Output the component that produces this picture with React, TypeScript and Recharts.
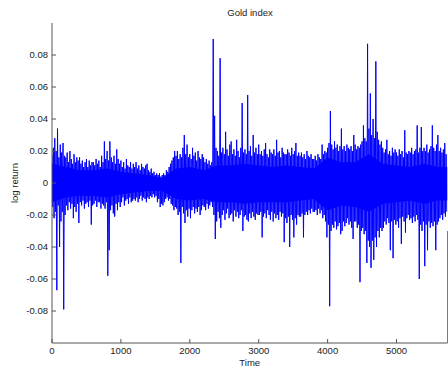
import React from 'react';
import { ComposedChart, Area, Line, XAxis, YAxis, ReferenceLine } from 'recharts';

// ---- axis ticks ----
const xTicks = [0, 1000, 2000, 3000, 4000, 5000];
const yTicks = [-0.08, -0.06, -0.04, -0.02, 0, 0.02, 0.04, 0.06, 0.08];
const xMax = 5740;

// ---- dense core band of the return series (per-mille), read at these times ----
const coreTimes = [0, 200, 400, 600, 800, 1000, 1200, 1400, 1600, 1800, 2000, 2200, 2400, 2600, 2800, 3000, 3200, 3400, 3600, 3800, 4000, 4200, 4400, 4600, 4800, 5000, 5200, 5400, 5600, 5740];
const coreHi = [12, 10, 8, 8, 9, 7, 6, 5, 3, 9, 10, 8, 11, 11, 12, 11, 10, 11, 10, 9, 16, 13, 13, 18, 12, 11, 10, 12, 10, 10];
const coreLo = [-12, -9, -8, -8, -9, -7, -6, -5, -5, -10, -11, -10, -12, -12, -13, -12, -12, -12, -11, -10, -17, -14, -15, -18, -13, -12, -11, -13, -11, -11];

// ---- extremes of the series in consecutive 20-step windows (per-mille) ----
const windowSize = 20;
const peakHi = [
  18, 22, 28, 20, 34, 16, 24, 19, 25, 17,
  16, 19, 13, 20, 15, 12, 18, 13, 16, 14,
  16, 12, 14, 10, 13, 15, 10, 14, 11, 13,
  13, 11, 15, 12, 14, 10, 17, 13, 26, 15,
  20, 14, 26, 16, 13, 17, 12, 21, 15, 12,
  14, 10, 13, 9, 15, 11, 10, 13, 9, 12,
  10, 13, 9, 11, 8, 12, 10, 9, 11, 12,
  8, 7, 9, 6, 7, 5, 6, 5, 6, 4,
  5, 6, 5, 8, 7, 10, 12, 14, 16, 20,
  17, 20, 15, 18, 16, 22, 30, 18, 24, 16,
  18, 15, 22, 17, 19, 14, 20, 16, 15, 18,
  16, 13, 15, 12, 14, 11, 13, 90, 42, 22,
  20, 17, 78, 19, 22, 18, 32, 21, 17, 24,
  26, 18, 21, 17, 27, 20, 16, 22, 50, 19,
  21, 18, 55, 20, 23, 17, 30, 19, 22, 18,
  24, 18, 20, 17, 21, 25, 18, 16, 21, 19,
  18, 21, 17, 27, 19, 20, 16, 22, 19, 18,
  18, 21, 19, 17, 22, 18, 20, 25, 17, 19,
  17, 19, 16, 18, 15, 20, 17, 16, 18, 15,
  15, 17, 14, 18, 16, 15, 24, 18, 20, 19,
  22, 25, 45, 24, 21, 26, 22, 24, 20, 23,
  34, 21, 23, 20, 24, 22, 21, 23, 20, 30,
  24, 21, 23, 22, 24, 26, 36, 28, 26, 87,
  34, 56, 30, 40, 28, 76, 32, 27, 24, 26,
  22, 19, 21, 27, 18, 20, 17, 22, 19, 21,
  19, 17, 21, 18, 20, 16, 33, 19, 18, 20,
  19, 22, 18, 20, 21, 36, 19, 22, 35, 20,
  22, 20, 24, 19, 21, 23, 36, 22, 20, 24,
  30, 20, 22, 19, 21, 25, 18,
];
const peakLo = [
  -15, -22, -18, -67, -14, -40, -24, -18, -79, -20,
  -14, -17, -12, -16, -13, -22, -15, -18, -13, -25,
  -12, -14, -11, -16, -13, -12, -15, -11, -26, -14,
  -13, -11, -15, -12, -12, -16, -13, -14, -16, -12,
  -58, -42, -17, -14, -19, -21, -13, -17, -12, -15,
  -12, -9, -14, -11, -10, -13, -9, -12, -11, -10,
  -11, -9, -12, -10, -8, -11, -9, -10, -12, -9,
  -10, -8, -9, -7, -9, -8, -12, -10, -15, -13,
  -14, -12, -10, -9, -11, -10, -13, -14, -17, -15,
  -16, -20, -18, -50, -15, -19, -25, -17, -21, -16,
  -22, -17, -15, -19, -16, -18, -15, -20, -17, -14,
  -15, -17, -13, -16, -14, -12, -15, -20, -35, -24,
  -18, -22, -28, -20, -17, -23, -19, -16, -22, -20,
  -19, -24, -17, -21, -18, -22, -20, -17, -30, -21,
  -20, -23, -24, -19, -22, -18, -21, -23, -19, -20,
  -20, -18, -34, -21, -19, -22, -17, -20, -23, -18,
  -24, -19, -22, -20, -23, -18, -21, -19, -37, -22,
  -25, -21, -40, -20, -23, -34, -22, -26, -20, -21,
  -21, -19, -34, -20, -18, -20, -17, -19, -16, -18,
  -18, -17, -20, -16, -19, -17, -22, -20, -24, -34,
  -26, -77, -30, -26, -28, -24, -29, -27, -25, -32,
  -30, -24, -27, -25, -22, -26, -24, -28, -35, -24,
  -24, -28, -26, -62, -30, -28, -32, -30, -50, -36,
  -40, -53, -36, -48, -34, -40, -30, -34, -28, -30,
  -28, -24, -26, -22, -25, -42, -24, -47, -23, -26,
  -24, -28, -22, -38, -21, -24, -31, -22, -20, -23,
  -22, -25, -21, -24, -20, -23, -60, -26, -30, -24,
  -52, -26, -42, -24, -28, -25, -27, -24, -42, -26,
  -24, -22, -20, -23, -19, -21, -18,
];

const coreData = coreTimes.map((t, i) => ({ t, band: [coreLo[i] / 1000, coreHi[i] / 1000] }));
const lineData: { t: number; v: number }[] = [];
peakHi.forEach((hi, k) => {
  lineData.push({ t: k * windowSize, v: hi / 1000 });
  lineData.push({ t: k * windowSize + windowSize / 2, v: peakLo[k] / 1000 });
});

const FONT = '"Liberation Sans", Arial, Helvetica, sans-serif';
const AXIS = '#555555';
const TXT = '#222222';

const fmtY = (v: number) => (Math.abs(v) < 1e-9 ? '0' : v.toFixed(2));

export default function App() {
  return (
    <div style={{ position: 'fixed', left: 0, top: 0, width: 448, height: 372, background: '#fff' }}>
      <div
        style={{
          position: 'absolute', left: 52, width: 396, top: 7, textAlign: 'center',
          fontFamily: FONT, fontSize: 9.5, lineHeight: '11px', color: TXT,
        }}
      >
        Gold index
      </div>
      <ComposedChart width={448} height={372} margin={{ top: 23, right: 0.5, bottom: 0, left: 0 }}>
        <XAxis
          type="number"
          dataKey="t"
          domain={[0, xMax]}
          allowDataOverflow
          ticks={xTicks}
          interval={0}
          height={29}
          stroke={AXIS}
          tickSize={-4}
          tickMargin={8}
          tick={{ fill: TXT, fontSize: 9.5, fontFamily: FONT }}
          label={{ value: 'Time', position: 'insideBottom', offset: 6, fill: TXT, fontSize: 9.5, fontFamily: FONT }}
        />
        <YAxis
          type="number"
          domain={[-0.1, 0.1]}
          allowDataOverflow
          ticks={yTicks}
          interval={0}
          width={52}
          stroke={AXIS}
          tickSize={-4}
          tickMargin={8}
          tickFormatter={fmtY}
          tick={{ fill: TXT, fontSize: 9.5, fontFamily: FONT }}
          label={{
            value: 'log return', angle: -90, position: 'insideLeft', offset: 15,
            style: { textAnchor: 'middle' }, fill: TXT, fontSize: 9.5, fontFamily: FONT,
          }}
        />
        <Area
          data={coreData}
          dataKey="band"
          type="linear"
          stroke="none"
          fill="#0000ff"
          fillOpacity={1}
          isAnimationActive={false}
          dot={false}
          activeDot={false}
        />
        <Line
          data={lineData}
          dataKey="v"
          type="linear"
          stroke="#0000ff"
          strokeWidth={1}
          dot={false}
          activeDot={false}
          isAnimationActive={false}
        />
        <ReferenceLine
          segment={[{ x: xMax, y: -0.1 }, { x: xMax, y: -0.03 }]}
          stroke="#7070c8"
          strokeWidth={1}
        />
      </ComposedChart>
    </div>
  );
}
